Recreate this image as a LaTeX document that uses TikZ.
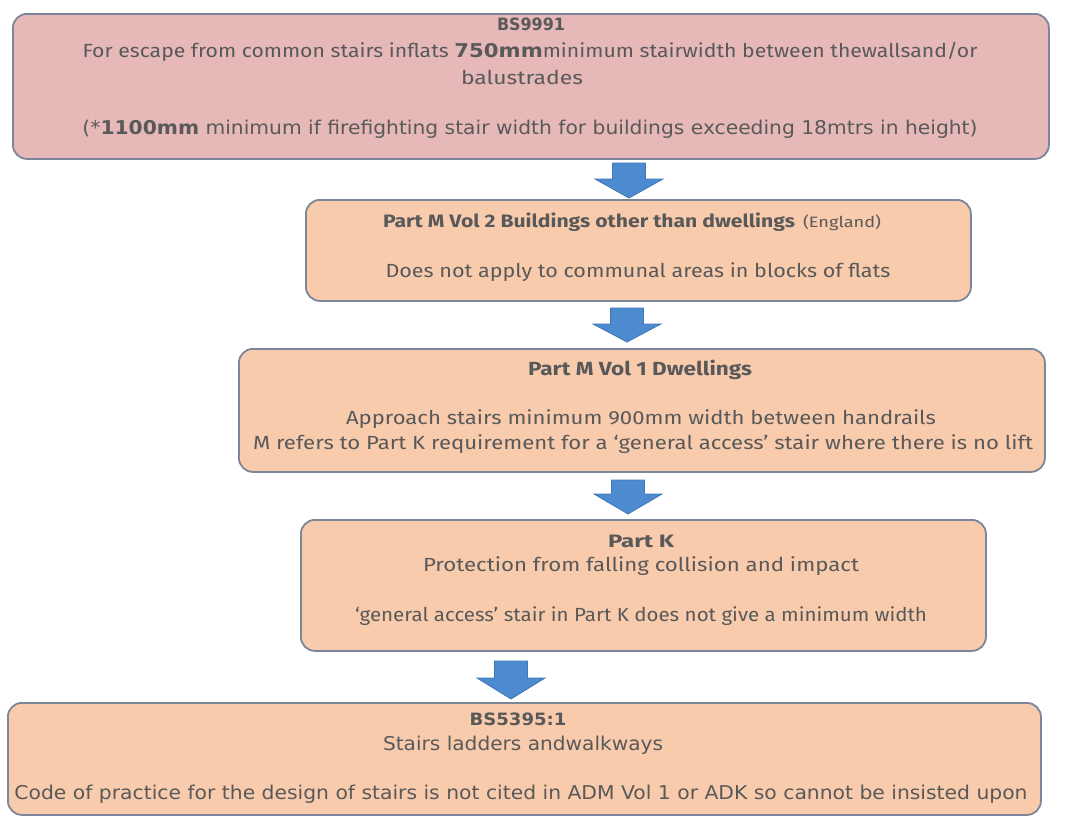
\documentclass[tikz,border=0pt]{standalone}
\usepackage{fontspec}
\setmainfont{Fira Sans}
\newfontfamily\vd{DejaVu Sans}
\newfontfamily\ub{Fira Sans}
\definecolor{pinkfill}{HTML}{E6B9B8}
\definecolor{peachfill}{HTML}{F8CBAD}
\definecolor{bordercol}{HTML}{7B8699}
\definecolor{arrfill}{HTML}{4C8BCF}
\definecolor{arredge}{HTML}{3F76B3}
\definecolor{txtcol}{HTML}{595959}
\newlength\fitL
\newcommand\fitw[2]{\settowidth\fitL{#2}\pgfmathsetmacro\fitS{#1/\fitL}\scalebox{\fitS}[1]{#2}}
\tikzset{
  pinkbox/.style={draw=bordercol, line width=1.8pt, fill=pinkfill, rounded corners=14pt, inner sep=0pt, anchor=north west},
  peachbox/.style={draw=bordercol, line width=1.8pt, fill=peachfill, rounded corners=14pt, inner sep=0pt, anchor=north west},
  txt/.style={text=txtcol, inner sep=0pt, anchor=mid},
  blockarr/.style={fill=arrfill, draw=arredge, line width=0.8pt, line join=miter}
}
\newcommand\blockarrow[4]{%
  \draw[blockarr] (#1-16.5,#2) -- (#1+16.5,#2) -- (#1+16.5,#3) -- (#1+34,#3) -- (#1,#4) -- (#1-34,#3) -- (#1-16.5,#3) -- cycle;}
\begin{document}
\begin{tikzpicture}[x=1pt,y=-1pt]
\useasboundingbox[fill=white] (0,0) rectangle (1071,817);
% boxes
\node[pinkbox, minimum width=1036pt, minimum height=145pt] (b1) at (12,13) {};
\node[peachbox, minimum width=665pt, minimum height=101pt] (b2) at (305,199) {};
\node[peachbox, minimum width=806pt, minimum height=123pt] (b3) at (238,348) {};
\node[peachbox, minimum width=685pt, minimum height=131pt] (b4) at (300,519) {};
\node[peachbox, minimum width=1033pt, minimum height=112pt] (b5) at (7,702) {};
% arrows
\blockarrow{629}{163}{179}{198}
\blockarrow{627}{308}{324}{342}
\blockarrow{628}{480}{494}{514}
\blockarrow{511}{661}{678}{699}
% box 1
\node[txt, font=\vd\bfseries\fontsize{17pt}{20pt}\selectfont] (t11) at (531,28) {\fitw{68}{BS9991}};
\node[txt, font=\ub\fontsize{19pt}{22pt}\selectfont] (t12) at (530,55) {\fitw{895}{For escape from common stairs inflats {\vd\bfseries 750mm}minimum stairwidth between thewallsand/or}};
\node[txt, font=\ub\fontsize{19pt}{22pt}\selectfont] (t13) at (522,82) {\fitw{122}{balustrades}};
\node[txt, font=\vd\fontsize{19pt}{22pt}\selectfont] (t14) at (530,132) {\fitw{895}{(*{\bfseries 1100mm} minimum if firefighting stair width for buildings exceeding 18mtrs in height)}};
% box 2
\node[txt, font=\ub\fontsize{18pt}{22pt}\selectfont] (t21) at (632,225) {\fitw{412}{\bfseries Part M Vol 2 Buildings other than dwellings}\hspace{8pt}\fitw{78}{\fontsize{15pt}{18pt}\selectfont (England)}};
\node[txt, font=\ub\fontsize{19pt}{22pt}\selectfont] (t22) at (638,275) {\fitw{505}{Does not apply to communal areas in blocks of flats}};
% box 3
\node[txt, font=\ub\bfseries\fontsize{19pt}{22pt}\selectfont] (t31) at (640,373) {\fitw{224}{Part M Vol 1 Dwellings}};
\node[txt, font=\ub\fontsize{19pt}{22pt}\selectfont] (t32) at (641,422) {\fitw{590}{Approach stairs minimum 900mm width between handrails}};
\node[txt, font=\ub\fontsize{19pt}{22pt}\selectfont] (t33) at (643,447) {\fitw{780}{M refers to Part K requirement for a ‘general access’ stair where there is no lift}};
% box 4
\node[txt, font=\ub\bfseries\fontsize{18pt}{22pt}\selectfont] (t41) at (641,545) {\fitw{66}{Part K}};
\node[txt, font=\ub\fontsize{19pt}{22pt}\selectfont] (t42) at (641,569) {\fitw{436}{Protection from falling collision and impact}};
\node[txt, font=\ub\fontsize{19pt}{22pt}\selectfont] (t43) at (641,619) {\fitw{572}{‘general access’ stair in Part K does not give a minimum width}};
% box 5
\node[txt, font=\vd\bfseries\fontsize{17pt}{20pt}\selectfont] (t51) at (518,723) {\fitw{97}{BS5395:1}};
\node[txt, font=\vd\fontsize{19pt}{22pt}\selectfont] (t52) at (523,748) {\fitw{280}{Stairs ladders andwalkways}};
\node[txt, font=\vd\fontsize{19pt}{22pt}\selectfont] (t53) at (521,797) {\fitw{1013}{Code of practice for the design of stairs is not cited in ADM Vol 1 or ADK so cannot be insisted upon}};
\end{tikzpicture}
\end{document}
